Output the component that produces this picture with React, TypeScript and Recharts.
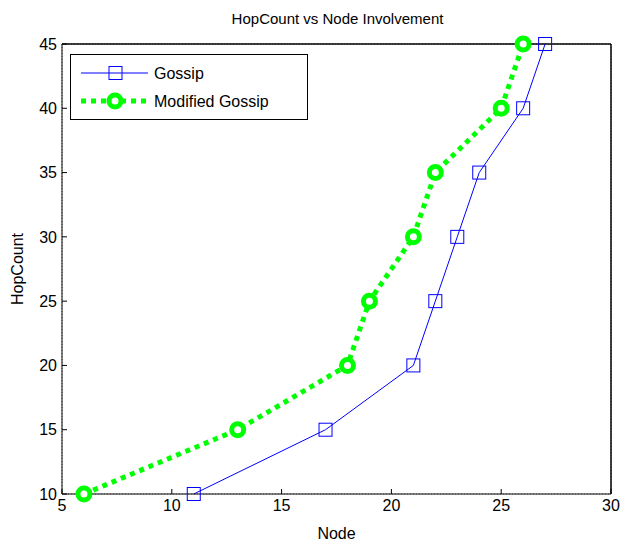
import React from 'react';
import { LineChart, Line, XAxis, YAxis, CartesianGrid, ReferenceLine } from 'recharts';

const gossipNodes = [11, 17, 21, 22, 23, 24, 26, 27];
const gossipHops = [10, 15, 20, 25, 30, 35, 40, 45];
const modifiedNodes = [6, 13, 18, 19, 21, 22, 25, 26];
const modifiedHops = [10, 15, 20, 25, 30, 35, 40, 45];
const xTicks = [5, 10, 15, 20, 25, 30];
const yTicks = [10, 15, 20, 25, 30, 35, 40, 45];

const gossipData = gossipNodes.map((x, i) => ({ x, y: gossipHops[i] }));
const modifiedData = modifiedNodes.map((x, i) => ({ x, y: modifiedHops[i] }));

const FONT = '"Liberation Sans", Arial, sans-serif';
const BLUE = '#0000ff';
const GREEN = '#00ff00';

const SquareDot = (props: any) => {
  const { cx, cy, key } = props;
  if (cx == null || cy == null) return null;
  return <rect key={key} x={cx - 6.5} y={cy - 6.5} width={13} height={13} fill="none" stroke={BLUE} strokeWidth={1} />;
};

const RingDot = (props: any) => {
  const { cx, cy, key } = props;
  if (cx == null || cy == null) return null;
  return <circle key={key} cx={cx} cy={cy} r={6} fill="#fff" stroke={GREEN} strokeWidth={5} />;
};

const LegendBox = () => (
  <svg width={238} height={66} style={{ display: 'block' }}>
    <rect x={0.5} y={0.5} width={237} height={65} fill="#fff" stroke="#000" strokeWidth={1} />
    <line x1={11} y1={19} x2={78} y2={19} stroke={BLUE} strokeWidth={1} />
    <rect x={39} y={12.5} width={13} height={13} fill="none" stroke={BLUE} />
    <text x={84} y={25} fontFamily={FONT} fontSize={16} fill="#000">Gossip</text>
    <line x1={11} y1={47} x2={78} y2={47} stroke={GREEN} strokeWidth={5} strokeDasharray="5 5" />
    <circle cx={45} cy={47} r={6} fill="#fff" stroke={GREEN} strokeWidth={5} />
    <text x={84} y={53} fontFamily={FONT} fontSize={16} fill="#000">Modified Gossip</text>
  </svg>
);

export default function App() {
  return (
    <div style={{ position: 'absolute', left: 0, top: 0, width: 625, height: 548, background: '#fff', fontFamily: FONT }}>
      <div style={{ position: 'absolute', left: 0, width: 625, top: 10, textAlign: 'center', fontSize: 15, paddingLeft: 50, boxSizing: 'border-box' }}>
        HopCount vs Node Involvement
      </div>
      <LineChart width={625} height={548} margin={{ top: 44, right: 14, bottom: 24, left: 22 }}>
        <CartesianGrid stroke="#888" strokeDasharray="1 2" />
        <XAxis
          xAxisId="b"
          type="number"
          dataKey="x"
          domain={[5, 30]}
          ticks={xTicks}
          height={30}
          stroke="#000"
          tickSize={-5}
          tickMargin={11}
          tick={{ fill: '#000', fontSize: 16, fontFamily: FONT }}
          label={{ value: 'Node', position: 'bottom', offset: 4, fill: '#000', fontSize: 16, fontFamily: FONT }}
          allowDataOverflow
        />
        <YAxis
          yAxisId="l"
          type="number"
          dataKey="y"
          domain={[10, 45]}
          ticks={yTicks}
          width={40}
          stroke="#000"
          tickSize={-5}
          tickMargin={10}
          tick={{ fill: '#000', fontSize: 16, fontFamily: FONT }}
          label={{
            content: (p: any) => {
              const vb = p.viewBox || {};
              const cy = vb.y + vb.height / 2;
              return (
                <text x={23} y={cy} transform={`rotate(-90 23 ${cy})`} textAnchor="middle" fontFamily={FONT} fontSize={16} fill="#000">
                  HopCount
                </text>
              );
            },
          }}
        />
        <ReferenceLine xAxisId="b" yAxisId="l" y={45} stroke="#000" strokeWidth={1.5} />
        <ReferenceLine xAxisId="b" yAxisId="l" x={30} stroke="#000" strokeWidth={1.5} />
        <Line
          xAxisId="b"
          yAxisId="l"
          data={gossipData}
          dataKey="y"
          name="Gossip"
          stroke={BLUE}
          strokeWidth={1}
          dot={SquareDot}
          activeDot={false}
          isAnimationActive={false}
        />
        <Line
          xAxisId="b"
          yAxisId="l"
          data={modifiedData}
          dataKey="y"
          name="Modified Gossip"
          stroke={GREEN}
          strokeWidth={5}
          strokeDasharray="5 5"
          dot={RingDot}
          activeDot={false}
          isAnimationActive={false}
        />
      </LineChart>
      <div style={{ position: 'absolute', left: 70, top: 54 }}>
        <LegendBox />
      </div>
    </div>
  );
}
